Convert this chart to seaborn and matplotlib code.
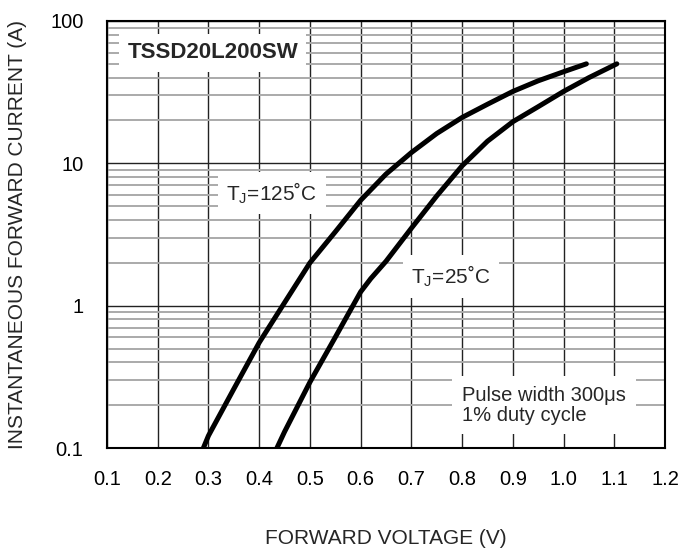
import pandas as pd
import matplotlib.pyplot as plt
import seaborn as sns
from matplotlib.ticker import FixedLocator, NullFormatter

# Curve data
v_125 = [0.29, 0.30, 0.35, 0.40, 0.45, 0.50, 0.55, 0.60, 0.65, 0.70, 0.75, 0.80, 0.85, 0.90, 0.95, 1.00, 1.045]
i_125 = [0.1, 0.122, 0.26, 0.55, 1.05, 2.0, 3.3, 5.5, 8.4, 11.9, 16.2, 21.0, 26.0, 32.0, 38.0, 44.0, 50.0]

v_25 = [0.435, 0.45, 0.50, 0.55, 0.60, 0.62, 0.65, 0.70, 0.75, 0.80, 0.85, 0.90, 0.95, 1.00, 1.05, 1.105]
i_25 = [0.1, 0.13, 0.29, 0.6, 1.25, 1.55, 2.05, 3.5, 5.9, 9.6, 14.3, 19.6, 25.0, 32.0, 40.0, 50.0]

x_ticks = [0.1, 0.2, 0.3, 0.4, 0.5, 0.6, 0.7, 0.8, 0.9, 1.0, 1.1, 1.2]
x_labels = ["0.1", "0.2", "0.3", "0.4", "0.5", "0.6", "0.7", "0.8", "0.9", "1.0", "1.1", "1.2"]
y_ticks = [0.1, 1, 10, 100]
y_labels = ["0.1", "1", "10", "100"]
y_minor = [m * d for d in [0.1, 1, 10] for m in range(2, 10)]

df_125 = pd.DataFrame({"V": v_125, "I": i_125})
df_25 = pd.DataFrame({"V": v_25, "I": i_25})

sns.set_style("white")
plt.rcParams["font.family"] = ["Liberation Sans", "DejaVu Sans"]

fig = plt.figure(figsize=(6.96, 5.51), dpi=100)
ax = fig.add_axes([107 / 696, 1 - 448 / 551, 558 / 696, 427 / 551])

ax.set_yscale("log")
ax.set_xlim(0.1, 1.2)
ax.set_ylim(0.1, 100)

ax.xaxis.set_major_locator(FixedLocator(x_ticks))
ax.set_xticklabels(x_labels)
ax.yaxis.set_major_locator(FixedLocator(y_ticks))
ax.yaxis.set_minor_locator(FixedLocator(y_minor))
ax.yaxis.set_minor_formatter(NullFormatter())
ax.set_yticklabels(y_labels)

ax.set_axisbelow(True)
ax.grid(which="major", axis="x", color="#222222", lw=1.0)
ax.grid(which="major", axis="y", color="#222222", lw=1.0)
ax.grid(which="minor", axis="y", color="#aaaaaa", lw=1.4)

ax.tick_params(which="both", length=0, labelsize=14.5, colors="black")
ax.tick_params(axis="y", pad=17)
ax.tick_params(axis="x", pad=16)

for s in ax.spines.values():
    s.set_color("black")
    s.set_linewidth(1.5)

for d in [df_125, df_25]:
    sns.lineplot(data=d, x="V", y="I", ax=ax, color="black", lw=3.6,
                 estimator=None, solid_capstyle="round")

ax.set_xlabel("FORWARD VOLTAGE (V)", fontsize=15)
ax.set_ylabel("INSTANTANEOUS FORWARD CURRENT (A)", fontsize=15)
ax.xaxis.set_label_coords(0.5, -0.19)
ax.yaxis.set_label_coords(-0.143, 0.5)

box = dict(facecolor="white", edgecolor="none", pad=6)
ax.text(0.14, 60, "TSSD20L200SW", fontsize=16, fontweight="bold", va="center", bbox=box)
ax.text(0.335, 6.2, "T$_\\mathregular{J}$=125˚C", fontsize=15, va="center", bbox=box)
ax.text(0.70, 1.6, "T$_\\mathregular{J}$=25˚C", fontsize=15, va="center", bbox=box)
ax.text(0.80, 0.20, "Pulse width 300μs\n1% duty cycle", fontsize=14.5, va="center",
        linespacing=1.05, bbox=dict(facecolor="white", edgecolor="none", pad=7))

fig.savefig("out.png", dpi=100)
